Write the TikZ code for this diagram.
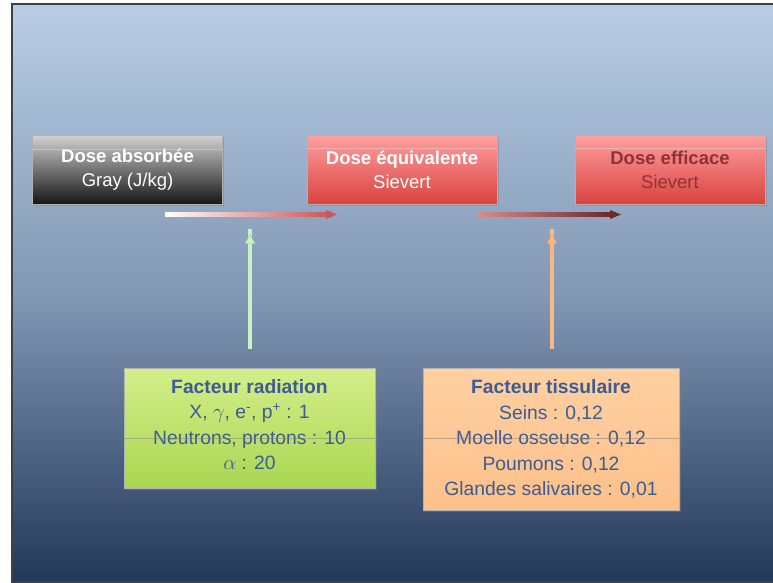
\documentclass[tikz,border=0pt]{standalone}
\usepackage{fontspec}
\setmainfont{Liberation Sans}
\usetikzlibrary{shadows}
\definecolor{bgtop}{HTML}{B9CDE5}
\definecolor{bgmid}{HTML}{8196B3}
\definecolor{bgbot}{HTML}{22385A}
\definecolor{txtblue}{HTML}{3B5C95}
\definecolor{darkred}{HTML}{8C3434}
\definecolor{redtop}{HTML}{FFA0A0}
\definecolor{redbot}{HTML}{D9423F}
\definecolor{graytop}{HTML}{D0D0D0}
\definecolor{graybot}{HTML}{141414}
\definecolor{greentop}{HTML}{D4EE8A}
\definecolor{greenbot}{HTML}{A9D651}
\definecolor{orangetop}{HTML}{FFD0A2}
\definecolor{orangebot}{HTML}{FDC08A}
\definecolor{arrred}{HTML}{C9585A}
\definecolor{arrdark}{HTML}{6E2828}
\definecolor{arrgreen}{HTML}{C6F5C4}
\definecolor{arrorange}{HTML}{F8B884}
\tikzset{
  box/.style={draw=black!30, line width=0.6pt, align=center, inner sep=0pt,
    drop shadow={shadow xshift=1.5pt, shadow yshift=-1.5pt, opacity=0.45},
    font=\fontsize{18.5pt}{24pt}\selectfont},
  topbox/.style={box, minimum width=190pt, minimum height=69pt},
  graybox/.style={topbox, top color=graytop, bottom color=graybot, text=white},
  redbox/.style={topbox, top color=redtop, bottom color=redbot},
  botbox/.style={box, text=txtblue, font=\fontsize{19.3pt}{25.5pt}\selectfont},
  glossline/.style={white!75!gray, opacity=0.45, line width=0.5pt},
  midline/.style={gray, opacity=0.5, line width=0.5pt},
}
\begin{document}
\begin{tikzpicture}[x=1pt, y=-1pt]
\useasboundingbox (0,0) rectangle (773,583);
\fill[white] (0,0) rectangle (773,583);
% background slide
\shade[top color=bgtop, bottom color=bgmid] (12,4) rectangle (773,300);
\shade[top color=bgmid, bottom color=bgbot] (12,299.5) rectangle (773,582);
\draw[black!75, line width=1.2pt] (773,4) -- (12,4) -- (12,582) -- (773,582);

% top boxes
\node[graybox] (abs) at (127.5,170) {\textbf{Dose absorbée}\\Gray (J/kg)};
\node[redbox, text=white] (equ) at (402,169.5) {\textbf{Dose équivalente}\\Sievert};
\node[redbox, text=darkred] (eff) at (670,169.5) {\textbf{Dose efficace}\\Sievert};

% bottom boxes
\node[botbox, top color=greentop, bottom color=greenbot, minimum width=251pt, minimum height=120pt] (rad) at (249.5,428)
  {\raisebox{0pt}[0pt][0pt]{}\textbf{Facteur radiation}\\X, $\gamma$, e\textsuperscript{-}, p\textsuperscript{+} : 1\\Neutrons, protons : 10\\$\alpha$ : 20\vspace*{7pt}};
\node[botbox, top color=orangetop, bottom color=orangebot, minimum width=256pt, minimum height=142pt] (tis) at (551,439)
  {\textbf{Facteur tissulaire}\\Seins : 0,12\\Moelle osseuse : 0,12\\Poumons : 0,12\\Glandes salivaires : 0,01};

% faint gloss lines
\draw[glossline] (abs.west) ++(0,-21) -- ++(191,0);
\draw[glossline] (equ.west) ++(0,-21) -- ++(190,0);
\draw[glossline] (eff.west) ++(0,-21) -- ++(190,0);
\draw[midline] (rad.west) ++(0,10) -- ++(251,0);
\draw[midline] (tis.west) ++(0,-1) -- ++(256,0);

% horizontal arrows
\coordinate (h1s) at (165,214.5);
\coordinate (h1e) at (337,214.5);
\coordinate (h2s) at (477,214.5);
\coordinate (h2e) at (621,214.5);
\shade[left color=white, right color=arrred] ([yshift=-1.6pt]h1s) rectangle ([xshift=-9pt,yshift=1.6pt]h1e);
\fill[arrred] (h1e) -- ++(-11,-4.5) -- ++(0,9) -- cycle;
\shade[left color=arrred!70!white, right color=arrdark] ([yshift=-1.6pt]h2s) rectangle ([xshift=-9pt,yshift=1.6pt]h2e);
\fill[arrdark] (h2e) -- ++(-11,-4.5) -- ++(0,9) -- cycle;

% vertical arrows
\coordinate (v1s) at (250,349);
\coordinate (v1e) at (250,234.5);
\coordinate (v2s) at (552,349);
\coordinate (v2e) at (552,234.5);
\draw[arrgreen!80!black!90, line width=4.6pt] (v1s) -- ([yshift=6pt]v1e);
\draw[arrgreen, line width=3.4pt] (v1s) -- ([yshift=6pt]v1e);
\fill[arrgreen, draw=arrgreen!80!black, line width=0.4pt] (v1e) -- ++(-5,9) -- ++(10,0) -- cycle;
\draw[arrorange!88!black, line width=4.6pt] (v2s) -- ([yshift=6pt]v2e);
\draw[arrorange, line width=3.4pt] (v2s) -- ([yshift=6pt]v2e);
\fill[arrorange, draw=arrorange!88!black, line width=0.4pt] (v2e) -- ++(-5,9) -- ++(10,0) -- cycle;
\end{tikzpicture}
\end{document}
